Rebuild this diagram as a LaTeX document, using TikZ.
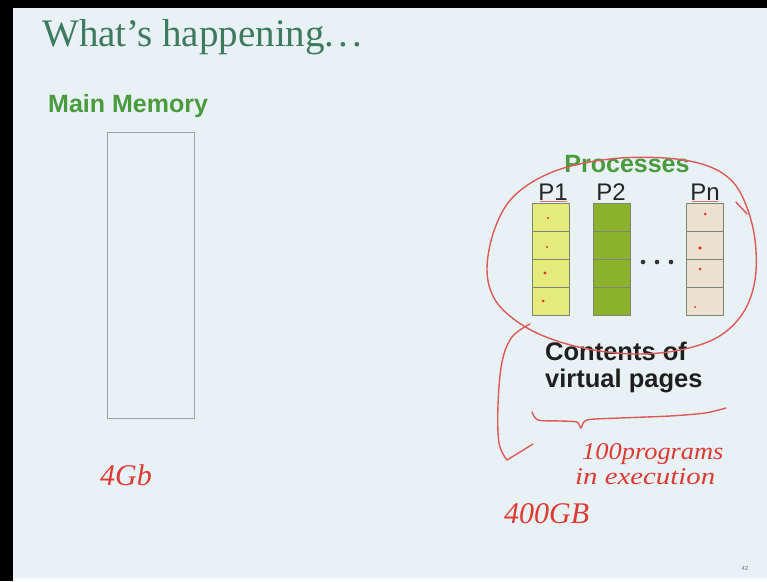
\documentclass[tikz,border=0pt]{standalone}
\usepackage{fontspec}
\setmainfont{Liberation Serif}
\setsansfont{Liberation Sans}
\newfontfamily\handfont{Liberation Serif}
\definecolor{slidebg}{HTML}{E8F1F4}
\definecolor{titlegreen}{HTML}{3E7A60}
\definecolor{labelgreen}{HTML}{4A9A3E}
\definecolor{boxgray}{HTML}{9BA3A3}
\definecolor{cellgray}{HTML}{7F8478}
\definecolor{pyellow}{HTML}{E4EB7A}
\definecolor{pgreen}{HTML}{8CB22C}
\definecolor{pbeige}{HTML}{ECE1CF}
\definecolor{inkred}{HTML}{DE3A34}
\definecolor{loopred}{HTML}{DD5A58}
\begin{document}
\begin{tikzpicture}[x=1pt,y=-1pt,
  heading/.style={anchor=base west, inner sep=0, text=labelgreen,
    font=\sffamily\bfseries\fontsize{25}{25}\selectfont},
  plabel/.style={anchor=base, inner sep=0, text=black!85,
    font=\sffamily\fontsize{24}{24}\selectfont},
  pagecell/.style={draw=cellgray, line width=0.8pt, minimum width=37pt,
    minimum height=28pt, anchor=north west, inner sep=0},
  bodytext/.style={anchor=base west, inner sep=0, text=black!88,
    font=\sffamily\bfseries\fontsize{25.5}{25.5}\selectfont},
  hand/.style={anchor=base west, inner sep=0, text=inkred,
    font=\handfont\itshape\fontsize{26}{26}\selectfont},
  ink/.style={draw=loopred, line width=1.4pt, line cap=round, line join=round},
  inkdot/.style={fill=inkred, draw=none}]
\useasboundingbox (0,0) rectangle (767,581);
% slide background and dark frame edges
\fill[slidebg] (0,0) rectangle (767,581);
\fill[white!70!slidebg] (13,578) rectangle (767,581);
\fill[black] (0,0) rectangle (767,8);
\fill[black] (0,0) rectangle (13,581);

% title
\node[anchor=base west, inner sep=0, text=titlegreen,
  font=\fontsize{39}{39}\selectfont] (title) at (42,46)
  {What’s happening.\kern4pt.\kern4pt.};

% main memory
\node[heading] (mmlabel) at (48,112) {Main Memory};
\node[draw=boxgray, line width=1.3pt, minimum width=87pt, minimum height=286pt,
  anchor=north west, inner sep=0] (mem) at (107,132) {};
\node[hand, font=\handfont\itshape\fontsize{30}{30}\selectfont] (memsize) at (100,485) {4Gb};

% processes and their pages
\node[heading, anchor=base] (proc) at (627,172) {Processes};
\node[plabel] (p1) at (553,200) {P1};
\node[plabel] (p2) at (611,200) {P2};
\node[plabel] (pn) at (705,200) {Pn};
\foreach \k in {0,1,2,3}{
  \node[pagecell, fill=pyellow] (a\k) at (532,203+28*\k) {};
  \node[pagecell, fill=pgreen]  (b\k) at (593,203+28*\k) {};
  \node[pagecell, fill=pbeige]  (c\k) at (686,203+28*\k) {};
}
\foreach \x in {643,657,671}
  \fill[black!80] (\x,262) circle (2.3pt);

% pen marks inside the pages
\foreach \p/\r in {(548,218)/1.1, (547,247)/1.1, (545,273)/1.7, (543,301)/1.5,
                   (705,214)/1.5, (700,248)/1.8, (700,269)/1.5, (695,307)/1.2}
  \fill[inkdot] \p circle (\r pt);
\draw[inkred, line width=1pt, opacity=0.7] (540,201) -- (567,201);
\draw[inkred, line width=1pt, opacity=0.7] (692,201) -- (718,201);

% caption
\node[bodytext] (cont1) at (545,360) {Contents of};
\node[bodytext] (cont2) at (545,387) {virtual pages};

% loop around the processes
\draw[ink] plot[smooth cycle, tension=0.6] coordinates {
  (746,205) (755,240) (755,280) (743,313) (718,337) (680,350) (635,354)
  (588,349) (546,337) (515,320) (494,298) (487,268) (495,228) (515,195)
  (555,171) (610,159) (665,158) (705,165) (731,180)};
\draw[ink] (736,202) -- (747,214);
% arrow leaving the loop
\coordinate (tailstart) at (530,324);
\coordinate (tailtip) at (507,460);
\coordinate (barb) at (533,444);
\draw[ink] plot[smooth, tension=0.6] coordinates {
  (tailstart) (512,337) (502,362) (498,405) (499,443) (tailtip)} -- (barb);
% brace under the caption
\draw[ink] plot[smooth, tension=0.5] coordinates {
  (532,412) (538,420) (560,421) (577,422) (581,428) (587,420) (620,418)
  (670,416) (705,413) (726,408)};

% notes
\node[hand, font=\handfont\itshape\fontsize{24}{24}\selectfont] (n1) at (582,459)
  {\scalebox{1.1}[1]{100programs}};
\node[hand, font=\handfont\itshape\fontsize{24}{24}\selectfont] (n2) at (575,484)
  {\scalebox{1.2}[1]{in execution}};
\node[hand, font=\handfont\itshape\fontsize{30}{30}\selectfont] (vsize) at (504,523) {400GB};

% slide number
\node[anchor=base, inner sep=0, text=black!55,
  font=\sffamily\fontsize{6}{6}\selectfont] (pagenum) at (745,570) {42};
\end{tikzpicture}
\end{document}
